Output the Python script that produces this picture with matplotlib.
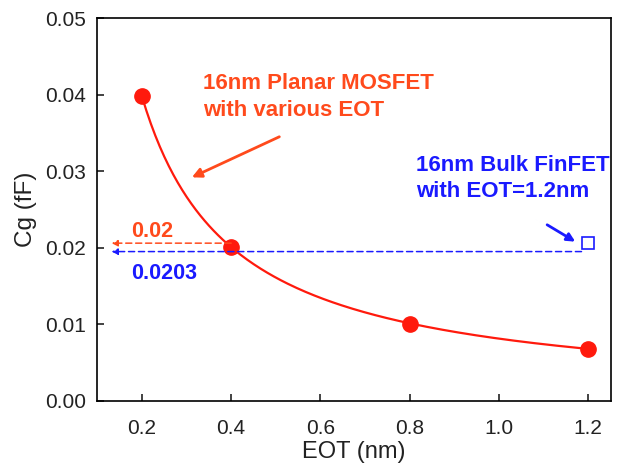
import numpy as np
import matplotlib.pyplot as plt

plt.rcParams['font.family'] = ['Liberation Sans', 'DejaVu Sans']

# planar MOSFET, Cg vs EOT
eot = [0.2, 0.4, 0.8, 1.2]
cg = [0.0398, 0.0201, 0.0101, 0.0068]

# bulk FinFET point
fin_eot = [1.2]
fin_cg = [0.0206]

planar_col = '#ff1a0d'
note_col = '#ff4a1c'
fin_col = '#1a1aff'

fig = plt.figure(figsize=(6.44, 4.65), dpi=100)
ax = fig.add_axes([0.151, 0.138, 0.797, 0.823])

# smooth trend line from a power law fit of the points
b, a = np.polyfit(np.log(eot), np.log(cg), 1)
xs = np.linspace(eot[0], eot[-1], 200)
ax.plot(xs, np.exp(a) * xs**b, color=planar_col, lw=1.6, zorder=2)
ax.plot(eot, cg, 'o', color=planar_col, ms=11, zorder=3)

ax.plot(fin_eot, fin_cg, 's', mfc='white', mec=fin_col, ms=8, mew=1.2, zorder=3)

# dashed guide arrows to the y axis
ax.annotate('', xy=(0.132, 0.0206), xytext=(eot[1], 0.0206),
            arrowprops=dict(arrowstyle='-|>', color=note_col, ls=(0, (4, 2.5)), lw=1.1,
                            mutation_scale=9, shrinkA=0, shrinkB=0))
ax.annotate('', xy=(0.132, 0.0195), xytext=(1.185, 0.0195),
            arrowprops=dict(arrowstyle='-|>', color=fin_col, ls=(0, (4, 2.5)), lw=1.1,
                            mutation_scale=9, shrinkA=0, shrinkB=0))
ax.text(0.177, 0.0221, '0.02', color=note_col, fontsize=15.5, fontweight='bold', va='center')
ax.text(0.177, 0.0166, '0.0203', color=fin_col, fontsize=15.5, fontweight='bold', va='center')

ax.text(0.338, 0.0397, '16nm Planar MOSFET\nwith various EOT', color=note_col,
        fontsize=16, fontweight='bold', va='center', linespacing=1.32)
ax.annotate('', xy=(0.312, 0.0292), xytext=(0.508, 0.0345),
            arrowprops=dict(arrowstyle='-|>', color=note_col, lw=2,
                            mutation_scale=14, shrinkA=0, shrinkB=0))

ax.text(0.815, 0.0291, '16nm Bulk FinFET\nwith EOT=1.2nm', color=fin_col,
        fontsize=16, fontweight='bold', va='center', linespacing=1.32)
ax.annotate('', xy=(1.171, 0.0208), xytext=(1.108, 0.0230),
            arrowprops=dict(arrowstyle='-|>', color=fin_col, lw=2,
                            mutation_scale=12, shrinkA=0, shrinkB=0))

ax.set_xlim(0.1, 1.25)
ax.set_ylim(0, 0.05)
ax.set_xticks([0.2, 0.4, 0.6, 0.8, 1.0, 1.2])
ax.set_yticks([0.0, 0.01, 0.02, 0.03, 0.04, 0.05])
ax.xaxis.set_major_formatter(plt.FormatStrFormatter('%.1f'))
ax.yaxis.set_major_formatter(plt.FormatStrFormatter('%.2f'))
ax.tick_params(direction='in', length=5, width=1.2, labelsize=15, pad=8, colors='#222222')
ax.tick_params(axis='x', pad=13)
for s in ax.spines.values():
    s.set_linewidth(1.2)
ax.set_xlabel('EOT (nm)', fontsize=17, color='#222222', labelpad=2)
ax.set_ylabel('Cg (fF)', fontsize=17.5, color='#222222', labelpad=6)

fig.savefig('out.png', dpi=100)
